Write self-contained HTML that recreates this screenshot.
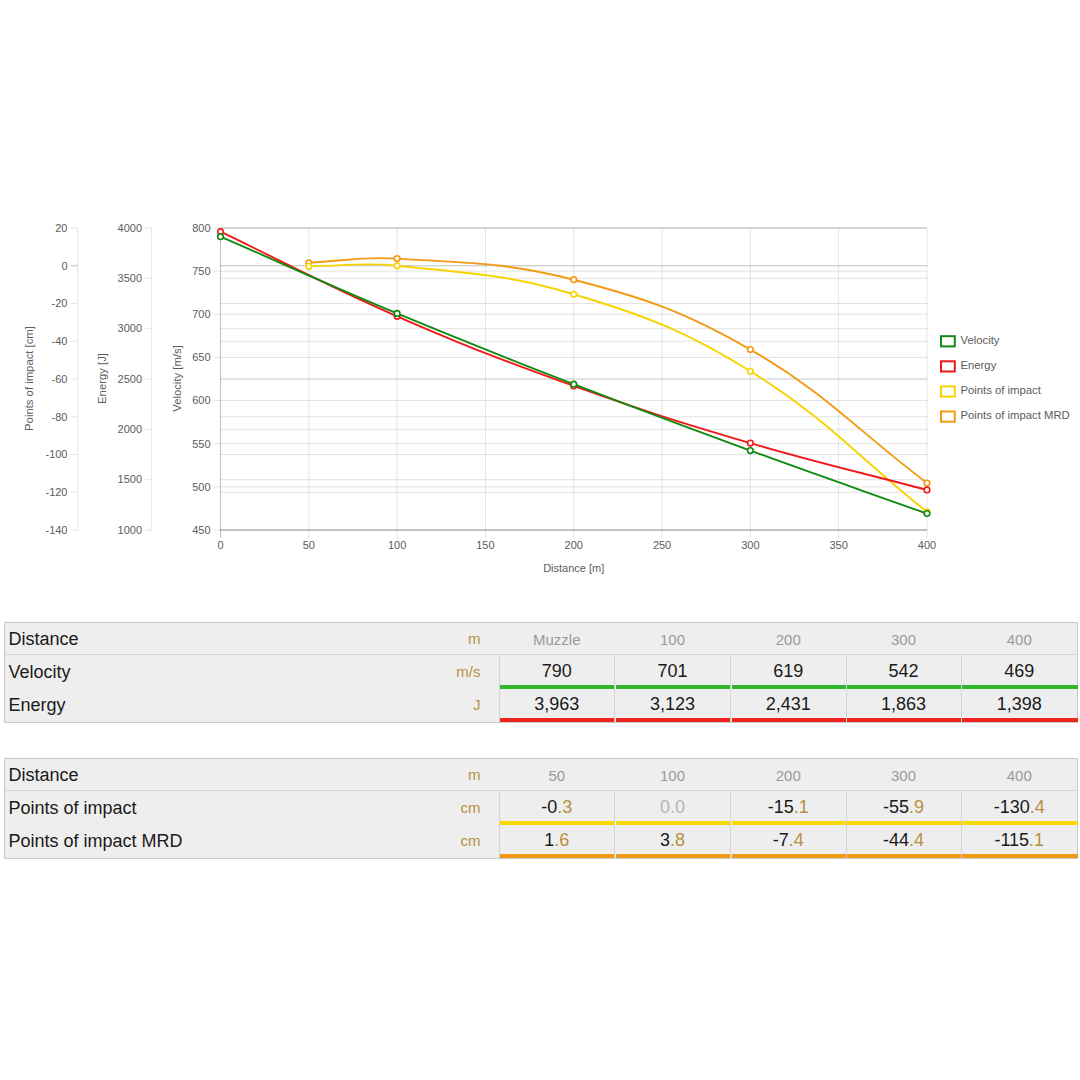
<!DOCTYPE html>
<html><head><meta charset="utf-8"><style>
html,body{margin:0;padding:0;background:#fff;}
body{width:1080px;height:1080px;position:relative;overflow:hidden;font-family:"Liberation Sans", sans-serif;}
</style></head><body>
<svg width="1080" height="600" viewBox="0 0 1080 600" style="position:absolute;left:0;top:0" font-family='"Liberation Sans", sans-serif'><line x1="220.50" y1="228.00" x2="220.50" y2="538.00" stroke="#c0c0c0" stroke-width="1"/><line x1="308.81" y1="228.00" x2="308.81" y2="538.00" stroke="#e5e5e5" stroke-width="1"/><line x1="397.12" y1="228.00" x2="397.12" y2="538.00" stroke="#e5e5e5" stroke-width="1"/><line x1="485.44" y1="228.00" x2="485.44" y2="538.00" stroke="#e5e5e5" stroke-width="1"/><line x1="573.75" y1="228.00" x2="573.75" y2="538.00" stroke="#e5e5e5" stroke-width="1"/><line x1="662.06" y1="228.00" x2="662.06" y2="538.00" stroke="#e5e5e5" stroke-width="1"/><line x1="750.38" y1="228.00" x2="750.38" y2="538.00" stroke="#e5e5e5" stroke-width="1"/><line x1="838.69" y1="228.00" x2="838.69" y2="538.00" stroke="#e5e5e5" stroke-width="1"/><line x1="927.00" y1="228.00" x2="927.00" y2="538.00" stroke="#e5e5e5" stroke-width="1"/><line x1="220.50" y1="530.00" x2="927.00" y2="530.00" stroke="#000" stroke-opacity="0.11" stroke-width="1"/><line x1="220.50" y1="486.86" x2="927.00" y2="486.86" stroke="#000" stroke-opacity="0.11" stroke-width="1"/><line x1="220.50" y1="443.71" x2="927.00" y2="443.71" stroke="#000" stroke-opacity="0.11" stroke-width="1"/><line x1="220.50" y1="400.57" x2="927.00" y2="400.57" stroke="#000" stroke-opacity="0.11" stroke-width="1"/><line x1="220.50" y1="357.43" x2="927.00" y2="357.43" stroke="#000" stroke-opacity="0.11" stroke-width="1"/><line x1="220.50" y1="314.29" x2="927.00" y2="314.29" stroke="#000" stroke-opacity="0.11" stroke-width="1"/><line x1="220.50" y1="271.14" x2="927.00" y2="271.14" stroke="#000" stroke-opacity="0.11" stroke-width="1"/><line x1="220.50" y1="228.00" x2="927.00" y2="228.00" stroke="#000" stroke-opacity="0.11" stroke-width="1"/><line x1="220.50" y1="530.00" x2="927.00" y2="530.00" stroke="#000" stroke-opacity="0.11" stroke-width="1"/><line x1="220.50" y1="479.67" x2="927.00" y2="479.67" stroke="#000" stroke-opacity="0.11" stroke-width="1"/><line x1="220.50" y1="429.33" x2="927.00" y2="429.33" stroke="#000" stroke-opacity="0.11" stroke-width="1"/><line x1="220.50" y1="379.00" x2="927.00" y2="379.00" stroke="#000" stroke-opacity="0.11" stroke-width="1"/><line x1="220.50" y1="328.67" x2="927.00" y2="328.67" stroke="#000" stroke-opacity="0.11" stroke-width="1"/><line x1="220.50" y1="278.33" x2="927.00" y2="278.33" stroke="#000" stroke-opacity="0.11" stroke-width="1"/><line x1="220.50" y1="228.00" x2="927.00" y2="228.00" stroke="#000" stroke-opacity="0.11" stroke-width="1"/><line x1="220.50" y1="530.00" x2="927.00" y2="530.00" stroke="#000" stroke-opacity="0.11" stroke-width="1"/><line x1="220.50" y1="492.25" x2="927.00" y2="492.25" stroke="#000" stroke-opacity="0.11" stroke-width="1"/><line x1="220.50" y1="454.50" x2="927.00" y2="454.50" stroke="#000" stroke-opacity="0.11" stroke-width="1"/><line x1="220.50" y1="416.75" x2="927.00" y2="416.75" stroke="#000" stroke-opacity="0.11" stroke-width="1"/><line x1="220.50" y1="379.00" x2="927.00" y2="379.00" stroke="#000" stroke-opacity="0.11" stroke-width="1"/><line x1="220.50" y1="341.25" x2="927.00" y2="341.25" stroke="#000" stroke-opacity="0.11" stroke-width="1"/><line x1="220.50" y1="303.50" x2="927.00" y2="303.50" stroke="#000" stroke-opacity="0.11" stroke-width="1"/><line x1="220.50" y1="265.75" x2="927.00" y2="265.75" stroke="#000" stroke-opacity="0.25" stroke-width="1"/><line x1="220.50" y1="228.00" x2="927.00" y2="228.00" stroke="#000" stroke-opacity="0.11" stroke-width="1"/><line x1="220.0" y1="530.0" x2="927.0" y2="530.0" stroke="#000" stroke-opacity="0.12" stroke-width="1.3"/><line x1="213.50" y1="530.00" x2="220.50" y2="530.00" stroke="#000" stroke-opacity="0.1"/><text x="210.50" y="533.80" text-anchor="end" font-size="11" fill="#5c5c5c" >450</text><line x1="213.50" y1="486.86" x2="220.50" y2="486.86" stroke="#000" stroke-opacity="0.1"/><text x="210.50" y="490.66" text-anchor="end" font-size="11" fill="#5c5c5c" >500</text><line x1="213.50" y1="443.71" x2="220.50" y2="443.71" stroke="#000" stroke-opacity="0.1"/><text x="210.50" y="447.51" text-anchor="end" font-size="11" fill="#5c5c5c" >550</text><line x1="213.50" y1="400.57" x2="220.50" y2="400.57" stroke="#000" stroke-opacity="0.1"/><text x="210.50" y="404.37" text-anchor="end" font-size="11" fill="#5c5c5c" >600</text><line x1="213.50" y1="357.43" x2="220.50" y2="357.43" stroke="#000" stroke-opacity="0.1"/><text x="210.50" y="361.23" text-anchor="end" font-size="11" fill="#5c5c5c" >650</text><line x1="213.50" y1="314.29" x2="220.50" y2="314.29" stroke="#000" stroke-opacity="0.1"/><text x="210.50" y="318.09" text-anchor="end" font-size="11" fill="#5c5c5c" >700</text><line x1="213.50" y1="271.14" x2="220.50" y2="271.14" stroke="#000" stroke-opacity="0.1"/><text x="210.50" y="274.94" text-anchor="end" font-size="11" fill="#5c5c5c" >750</text><line x1="213.50" y1="228.00" x2="220.50" y2="228.00" stroke="#000" stroke-opacity="0.1"/><text x="210.50" y="231.80" text-anchor="end" font-size="11" fill="#5c5c5c" >800</text><line x1="144.60" y1="530.00" x2="151.60" y2="530.00" stroke="#000" stroke-opacity="0.1"/><text x="142.10" y="533.80" text-anchor="end" font-size="11" fill="#5c5c5c" >1000</text><line x1="144.60" y1="479.67" x2="151.60" y2="479.67" stroke="#000" stroke-opacity="0.1"/><text x="142.10" y="483.47" text-anchor="end" font-size="11" fill="#5c5c5c" >1500</text><line x1="144.60" y1="429.33" x2="151.60" y2="429.33" stroke="#000" stroke-opacity="0.1"/><text x="142.10" y="433.13" text-anchor="end" font-size="11" fill="#5c5c5c" >2000</text><line x1="144.60" y1="379.00" x2="151.60" y2="379.00" stroke="#000" stroke-opacity="0.1"/><text x="142.10" y="382.80" text-anchor="end" font-size="11" fill="#5c5c5c" >2500</text><line x1="144.60" y1="328.67" x2="151.60" y2="328.67" stroke="#000" stroke-opacity="0.1"/><text x="142.10" y="332.47" text-anchor="end" font-size="11" fill="#5c5c5c" >3000</text><line x1="144.60" y1="278.33" x2="151.60" y2="278.33" stroke="#000" stroke-opacity="0.1"/><text x="142.10" y="282.13" text-anchor="end" font-size="11" fill="#5c5c5c" >3500</text><line x1="144.60" y1="228.00" x2="151.60" y2="228.00" stroke="#000" stroke-opacity="0.1"/><text x="142.10" y="231.80" text-anchor="end" font-size="11" fill="#5c5c5c" >4000</text><line x1="70.80" y1="530.00" x2="77.80" y2="530.00" stroke="#000" stroke-opacity="0.1"/><text x="67.50" y="533.80" text-anchor="end" font-size="11" fill="#5c5c5c" >-140</text><line x1="70.80" y1="492.25" x2="77.80" y2="492.25" stroke="#000" stroke-opacity="0.1"/><text x="67.50" y="496.05" text-anchor="end" font-size="11" fill="#5c5c5c" >-120</text><line x1="70.80" y1="454.50" x2="77.80" y2="454.50" stroke="#000" stroke-opacity="0.1"/><text x="67.50" y="458.30" text-anchor="end" font-size="11" fill="#5c5c5c" >-100</text><line x1="70.80" y1="416.75" x2="77.80" y2="416.75" stroke="#000" stroke-opacity="0.1"/><text x="67.50" y="420.55" text-anchor="end" font-size="11" fill="#5c5c5c" >-80</text><line x1="70.80" y1="379.00" x2="77.80" y2="379.00" stroke="#000" stroke-opacity="0.1"/><text x="67.50" y="382.80" text-anchor="end" font-size="11" fill="#5c5c5c" >-60</text><line x1="70.80" y1="341.25" x2="77.80" y2="341.25" stroke="#000" stroke-opacity="0.1"/><text x="67.50" y="345.05" text-anchor="end" font-size="11" fill="#5c5c5c" >-40</text><line x1="70.80" y1="303.50" x2="77.80" y2="303.50" stroke="#000" stroke-opacity="0.1"/><text x="67.50" y="307.30" text-anchor="end" font-size="11" fill="#5c5c5c" >-20</text><line x1="70.80" y1="265.75" x2="77.80" y2="265.75" stroke="#000" stroke-opacity="0.25"/><text x="67.50" y="269.55" text-anchor="end" font-size="11" fill="#5c5c5c" >0</text><line x1="70.80" y1="228.00" x2="77.80" y2="228.00" stroke="#000" stroke-opacity="0.1"/><text x="67.50" y="231.80" text-anchor="end" font-size="11" fill="#5c5c5c" >20</text><line x1="77.8" y1="228.0" x2="77.8" y2="530.0" stroke="#000" stroke-opacity="0.1"/><line x1="151.6" y1="228.0" x2="151.6" y2="530.0" stroke="#000" stroke-opacity="0.1"/><text x="220.50" y="549.40" text-anchor="middle" font-size="11" fill="#5c5c5c" >0</text><text x="308.81" y="549.40" text-anchor="middle" font-size="11" fill="#5c5c5c" >50</text><text x="397.12" y="549.40" text-anchor="middle" font-size="11" fill="#5c5c5c" >100</text><text x="485.44" y="549.40" text-anchor="middle" font-size="11" fill="#5c5c5c" >150</text><text x="573.75" y="549.40" text-anchor="middle" font-size="11" fill="#5c5c5c" >200</text><text x="662.06" y="549.40" text-anchor="middle" font-size="11" fill="#5c5c5c" >250</text><text x="750.38" y="549.40" text-anchor="middle" font-size="11" fill="#5c5c5c" >300</text><text x="838.69" y="549.40" text-anchor="middle" font-size="11" fill="#5c5c5c" >350</text><text x="927.00" y="549.40" text-anchor="middle" font-size="11" fill="#5c5c5c" >400</text><text x="573.75" y="572.20" text-anchor="middle" font-size="11" fill="#5c5c5c" >Distance [m]</text><text x="0" y="0" transform="translate(33.30,378.50) rotate(-90)" text-anchor="middle" font-size="11.3" fill="#5c5c5c">Points of impact [cm]</text><text x="0" y="0" transform="translate(105.60,378.50) rotate(-90)" text-anchor="middle" font-size="11.3" fill="#5c5c5c">Energy [J]</text><text x="0" y="0" transform="translate(180.50,378.50) rotate(-90)" text-anchor="middle" font-size="11.3" fill="#5c5c5c">Velocity [m/s]</text><path d="M308.81,262.73 C344.14,261.07 361.94,256.32 397.12,258.58 C467.92,263.12 505.41,262.12 573.75,279.72 C646.71,298.51 685.13,312.01 750.38,349.56 C826.43,393.32 856.35,429.62 927.00,483.00" fill="none" stroke="#f39a12" stroke-width="1.9"/><circle cx="308.81" cy="262.73" r="2.8" fill="#fff" stroke="#f39a12" stroke-width="1.6"/><circle cx="397.12" cy="258.58" r="2.8" fill="#fff" stroke="#f39a12" stroke-width="1.6"/><circle cx="573.75" cy="279.72" r="2.8" fill="#fff" stroke="#f39a12" stroke-width="1.6"/><circle cx="750.38" cy="349.56" r="2.8" fill="#fff" stroke="#f39a12" stroke-width="1.6"/><circle cx="927.00" cy="483.00" r="2.8" fill="#fff" stroke="#f39a12" stroke-width="1.6"/><path d="M308.81,266.32 C344.14,266.09 362.10,262.06 397.12,265.75 C468.08,273.23 505.72,273.93 573.75,294.25 C647.02,316.14 685.31,331.18 750.38,371.26 C826.61,418.23 856.35,455.63 927.00,511.88" fill="none" stroke="#f7d400" stroke-width="1.9"/><circle cx="308.81" cy="266.32" r="2.8" fill="#fff" stroke="#f7d400" stroke-width="1.6"/><circle cx="397.12" cy="265.75" r="2.8" fill="#fff" stroke="#f7d400" stroke-width="1.6"/><circle cx="573.75" cy="294.25" r="2.8" fill="#fff" stroke="#f7d400" stroke-width="1.6"/><circle cx="750.38" cy="371.26" r="2.8" fill="#fff" stroke="#f7d400" stroke-width="1.6"/><circle cx="927.00" cy="511.88" r="2.8" fill="#fff" stroke="#f7d400" stroke-width="1.6"/><path d="M220.50,231.72 C291.15,265.55 325.38,284.96 397.12,316.28 C466.68,346.65 502.31,360.29 573.75,385.95 C643.61,411.03 679.16,422.16 750.38,443.12 C820.46,463.76 856.35,471.21 927.00,489.93" fill="none" stroke="#f01818" stroke-width="1.9"/><circle cx="220.50" cy="231.72" r="2.8" fill="#fff" stroke="#f01818" stroke-width="1.6"/><circle cx="397.12" cy="316.28" r="2.8" fill="#fff" stroke="#f01818" stroke-width="1.6"/><circle cx="573.75" cy="385.95" r="2.8" fill="#fff" stroke="#f01818" stroke-width="1.6"/><circle cx="750.38" cy="443.12" r="2.8" fill="#fff" stroke="#f01818" stroke-width="1.6"/><circle cx="927.00" cy="489.93" r="2.8" fill="#fff" stroke="#f01818" stroke-width="1.6"/><path d="M220.50,236.63 C291.15,267.35 326.05,283.73 397.12,313.42 C467.35,342.75 502.81,356.63 573.75,384.18 C644.11,411.50 679.50,424.65 750.38,450.62 C820.80,476.42 856.35,488.41 927.00,513.61" fill="none" stroke="#118a11" stroke-width="1.9"/><circle cx="220.50" cy="236.63" r="2.8" fill="#fff" stroke="#118a11" stroke-width="1.6"/><circle cx="397.12" cy="313.42" r="2.8" fill="#fff" stroke="#118a11" stroke-width="1.6"/><circle cx="573.75" cy="384.18" r="2.8" fill="#fff" stroke="#118a11" stroke-width="1.6"/><circle cx="750.38" cy="450.62" r="2.8" fill="#fff" stroke="#118a11" stroke-width="1.6"/><circle cx="927.00" cy="513.61" r="2.8" fill="#fff" stroke="#118a11" stroke-width="1.6"/><rect x="941" y="336.20" width="13.8" height="10.2" fill="none" stroke="#118a11" stroke-width="2"/><text x="960.50" y="344.00" text-anchor="start" font-size="11.3" fill="#5c5c5c" >Velocity</text><rect x="941" y="361.30" width="13.8" height="10.2" fill="none" stroke="#f01818" stroke-width="2"/><text x="960.50" y="369.10" text-anchor="start" font-size="11.3" fill="#5c5c5c" >Energy</text><rect x="941" y="386.40" width="13.8" height="10.2" fill="none" stroke="#f7d400" stroke-width="2"/><text x="960.50" y="394.20" text-anchor="start" font-size="11.3" fill="#5c5c5c" >Points of impact</text><rect x="941" y="411.50" width="13.8" height="10.2" fill="none" stroke="#f39a12" stroke-width="2"/><text x="960.50" y="419.30" text-anchor="start" font-size="11.3" fill="#5c5c5c" >Points of impact MRD</text></svg>
<div style="position:absolute;left:4px;top:622px;width:1074px;height:101px;background:#eeeeee;border:1px solid #c8c8c8;box-sizing:border-box"></div><div style="position:absolute;left:5px;top:654px;width:1072px;height:1px;background:#d4d4d4"></div><div style="position:absolute;left:8.5px;top:622px;height:32px;line-height:34px;font-size:18px;color:#1a1a1a">Distance</div><div style="position:absolute;right:599.5px;top:622px;height:32px;line-height:33px;font-size:15px;color:#b8903f">m</div><div style="position:absolute;left:499.0px;width:115.5px;top:622px;height:32px;line-height:35px;font-size:15px;color:#9a9a9a;text-align:center">Muzzle</div><div style="position:absolute;left:614.5px;width:116.0px;top:622px;height:32px;line-height:35px;font-size:15px;color:#9a9a9a;text-align:center">100</div><div style="position:absolute;left:730.5px;width:115.5px;top:622px;height:32px;line-height:35px;font-size:15px;color:#9a9a9a;text-align:center">200</div><div style="position:absolute;left:846.0px;width:115.0px;top:622px;height:32px;line-height:35px;font-size:15px;color:#9a9a9a;text-align:center">300</div><div style="position:absolute;left:961.0px;width:116.5px;top:622px;height:32px;line-height:35px;font-size:15px;color:#9a9a9a;text-align:center">400</div><div style="position:absolute;left:8.5px;top:654px;height:33px;line-height:36px;font-size:18px;color:#1a1a1a">Velocity</div><div style="position:absolute;right:599.5px;top:654px;height:33px;line-height:35px;font-size:15px;color:#b8903f">m/s</div><div style="position:absolute;left:499.0px;width:115.5px;top:654px;height:33px;line-height:34px;font-size:18px;color:#1a1a1a;text-align:center">790</div><div style="position:absolute;left:500.0px;width:114.5px;top:685px;height:4px;background:#30b82c"></div><div style="position:absolute;left:614.5px;width:116.0px;top:654px;height:33px;line-height:34px;font-size:18px;color:#1a1a1a;text-align:center">701</div><div style="position:absolute;left:615.5px;width:115.0px;top:685px;height:4px;background:#30b82c"></div><div style="position:absolute;left:730.5px;width:115.5px;top:654px;height:33px;line-height:34px;font-size:18px;color:#1a1a1a;text-align:center">619</div><div style="position:absolute;left:731.5px;width:114.5px;top:685px;height:4px;background:#30b82c"></div><div style="position:absolute;left:846.0px;width:115.0px;top:654px;height:33px;line-height:34px;font-size:18px;color:#1a1a1a;text-align:center">542</div><div style="position:absolute;left:847.0px;width:114.0px;top:685px;height:4px;background:#30b82c"></div><div style="position:absolute;left:961.0px;width:116.5px;top:654px;height:33px;line-height:34px;font-size:18px;color:#1a1a1a;text-align:center">469</div><div style="position:absolute;left:962.0px;width:115.5px;top:685px;height:4px;background:#30b82c"></div><div style="position:absolute;left:8.5px;top:687px;height:33px;line-height:36px;font-size:18px;color:#1a1a1a">Energy</div><div style="position:absolute;right:599.5px;top:687px;height:33px;line-height:35px;font-size:15px;color:#b8903f">J</div><div style="position:absolute;left:499.0px;width:115.5px;top:687px;height:33px;line-height:34px;font-size:18px;color:#1a1a1a;text-align:center">3,963</div><div style="position:absolute;left:500.0px;width:114.5px;top:718px;height:4px;background:#f0231e"></div><div style="position:absolute;left:614.5px;width:116.0px;top:687px;height:33px;line-height:34px;font-size:18px;color:#1a1a1a;text-align:center">3,123</div><div style="position:absolute;left:615.5px;width:115.0px;top:718px;height:4px;background:#f0231e"></div><div style="position:absolute;left:730.5px;width:115.5px;top:687px;height:33px;line-height:34px;font-size:18px;color:#1a1a1a;text-align:center">2,431</div><div style="position:absolute;left:731.5px;width:114.5px;top:718px;height:4px;background:#f0231e"></div><div style="position:absolute;left:846.0px;width:115.0px;top:687px;height:33px;line-height:34px;font-size:18px;color:#1a1a1a;text-align:center">1,863</div><div style="position:absolute;left:847.0px;width:114.0px;top:718px;height:4px;background:#f0231e"></div><div style="position:absolute;left:961.0px;width:116.5px;top:687px;height:33px;line-height:34px;font-size:18px;color:#1a1a1a;text-align:center">1,398</div><div style="position:absolute;left:962.0px;width:115.5px;top:718px;height:4px;background:#f0231e"></div><div style="position:absolute;left:498.5px;top:655px;width:1px;height:67px;background:#d4d4d4"></div><div style="position:absolute;left:614.0px;top:655px;width:1px;height:67px;background:#d4d4d4"></div><div style="position:absolute;left:730.0px;top:655px;width:1px;height:67px;background:#d4d4d4"></div><div style="position:absolute;left:845.5px;top:655px;width:1px;height:67px;background:#d4d4d4"></div><div style="position:absolute;left:960.5px;top:655px;width:1px;height:67px;background:#d4d4d4"></div><div style="position:absolute;left:4px;top:758px;width:1074px;height:101px;background:#eeeeee;border:1px solid #c8c8c8;box-sizing:border-box"></div><div style="position:absolute;left:5px;top:790px;width:1072px;height:1px;background:#d4d4d4"></div><div style="position:absolute;left:8.5px;top:758px;height:32px;line-height:34px;font-size:18px;color:#1a1a1a">Distance</div><div style="position:absolute;right:599.5px;top:758px;height:32px;line-height:33px;font-size:15px;color:#b8903f">m</div><div style="position:absolute;left:499.0px;width:115.5px;top:758px;height:32px;line-height:35px;font-size:15px;color:#9a9a9a;text-align:center">50</div><div style="position:absolute;left:614.5px;width:116.0px;top:758px;height:32px;line-height:35px;font-size:15px;color:#9a9a9a;text-align:center">100</div><div style="position:absolute;left:730.5px;width:115.5px;top:758px;height:32px;line-height:35px;font-size:15px;color:#9a9a9a;text-align:center">200</div><div style="position:absolute;left:846.0px;width:115.0px;top:758px;height:32px;line-height:35px;font-size:15px;color:#9a9a9a;text-align:center">300</div><div style="position:absolute;left:961.0px;width:116.5px;top:758px;height:32px;line-height:35px;font-size:15px;color:#9a9a9a;text-align:center">400</div><div style="position:absolute;left:8.5px;top:790px;height:33px;line-height:36px;font-size:18px;color:#1a1a1a">Points of impact</div><div style="position:absolute;right:599.5px;top:790px;height:33px;line-height:35px;font-size:15px;color:#b8903f">cm</div><div style="position:absolute;left:499.0px;width:115.5px;top:790px;height:33px;line-height:34px;font-size:18px;color:#1a1a1a;text-align:center">-0<span style="color:#b8903f">.3</span></div><div style="position:absolute;left:500.0px;width:114.5px;top:821px;height:4px;background:#f8d80a"></div><div style="position:absolute;left:614.5px;width:116.0px;top:790px;height:33px;line-height:34px;font-size:18px;color:#1a1a1a;text-align:center"><span style="color:#b4b4b4">0.0</span></div><div style="position:absolute;left:615.5px;width:115.0px;top:821px;height:4px;background:#f8d80a"></div><div style="position:absolute;left:730.5px;width:115.5px;top:790px;height:33px;line-height:34px;font-size:18px;color:#1a1a1a;text-align:center">-15<span style="color:#b8903f">.1</span></div><div style="position:absolute;left:731.5px;width:114.5px;top:821px;height:4px;background:#f8d80a"></div><div style="position:absolute;left:846.0px;width:115.0px;top:790px;height:33px;line-height:34px;font-size:18px;color:#1a1a1a;text-align:center">-55<span style="color:#b8903f">.9</span></div><div style="position:absolute;left:847.0px;width:114.0px;top:821px;height:4px;background:#f8d80a"></div><div style="position:absolute;left:961.0px;width:116.5px;top:790px;height:33px;line-height:34px;font-size:18px;color:#1a1a1a;text-align:center">-130<span style="color:#b8903f">.4</span></div><div style="position:absolute;left:962.0px;width:115.5px;top:821px;height:4px;background:#f8d80a"></div><div style="position:absolute;left:8.5px;top:823px;height:33px;line-height:36px;font-size:18px;color:#1a1a1a">Points of impact MRD</div><div style="position:absolute;right:599.5px;top:823px;height:33px;line-height:35px;font-size:15px;color:#b8903f">cm</div><div style="position:absolute;left:499.0px;width:115.5px;top:823px;height:33px;line-height:34px;font-size:18px;color:#1a1a1a;text-align:center">1<span style="color:#b8903f">.6</span></div><div style="position:absolute;left:500.0px;width:114.5px;top:854px;height:4px;background:#f29a12"></div><div style="position:absolute;left:614.5px;width:116.0px;top:823px;height:33px;line-height:34px;font-size:18px;color:#1a1a1a;text-align:center">3<span style="color:#b8903f">.8</span></div><div style="position:absolute;left:615.5px;width:115.0px;top:854px;height:4px;background:#f29a12"></div><div style="position:absolute;left:730.5px;width:115.5px;top:823px;height:33px;line-height:34px;font-size:18px;color:#1a1a1a;text-align:center">-7<span style="color:#b8903f">.4</span></div><div style="position:absolute;left:731.5px;width:114.5px;top:854px;height:4px;background:#f29a12"></div><div style="position:absolute;left:846.0px;width:115.0px;top:823px;height:33px;line-height:34px;font-size:18px;color:#1a1a1a;text-align:center">-44<span style="color:#b8903f">.4</span></div><div style="position:absolute;left:847.0px;width:114.0px;top:854px;height:4px;background:#f29a12"></div><div style="position:absolute;left:961.0px;width:116.5px;top:823px;height:33px;line-height:34px;font-size:18px;color:#1a1a1a;text-align:center">-115<span style="color:#b8903f">.1</span></div><div style="position:absolute;left:962.0px;width:115.5px;top:854px;height:4px;background:#f29a12"></div><div style="position:absolute;left:498.5px;top:791px;width:1px;height:67px;background:#d4d4d4"></div><div style="position:absolute;left:614.0px;top:791px;width:1px;height:67px;background:#d4d4d4"></div><div style="position:absolute;left:730.0px;top:791px;width:1px;height:67px;background:#d4d4d4"></div><div style="position:absolute;left:845.5px;top:791px;width:1px;height:67px;background:#d4d4d4"></div><div style="position:absolute;left:960.5px;top:791px;width:1px;height:67px;background:#d4d4d4"></div>
</body></html>
